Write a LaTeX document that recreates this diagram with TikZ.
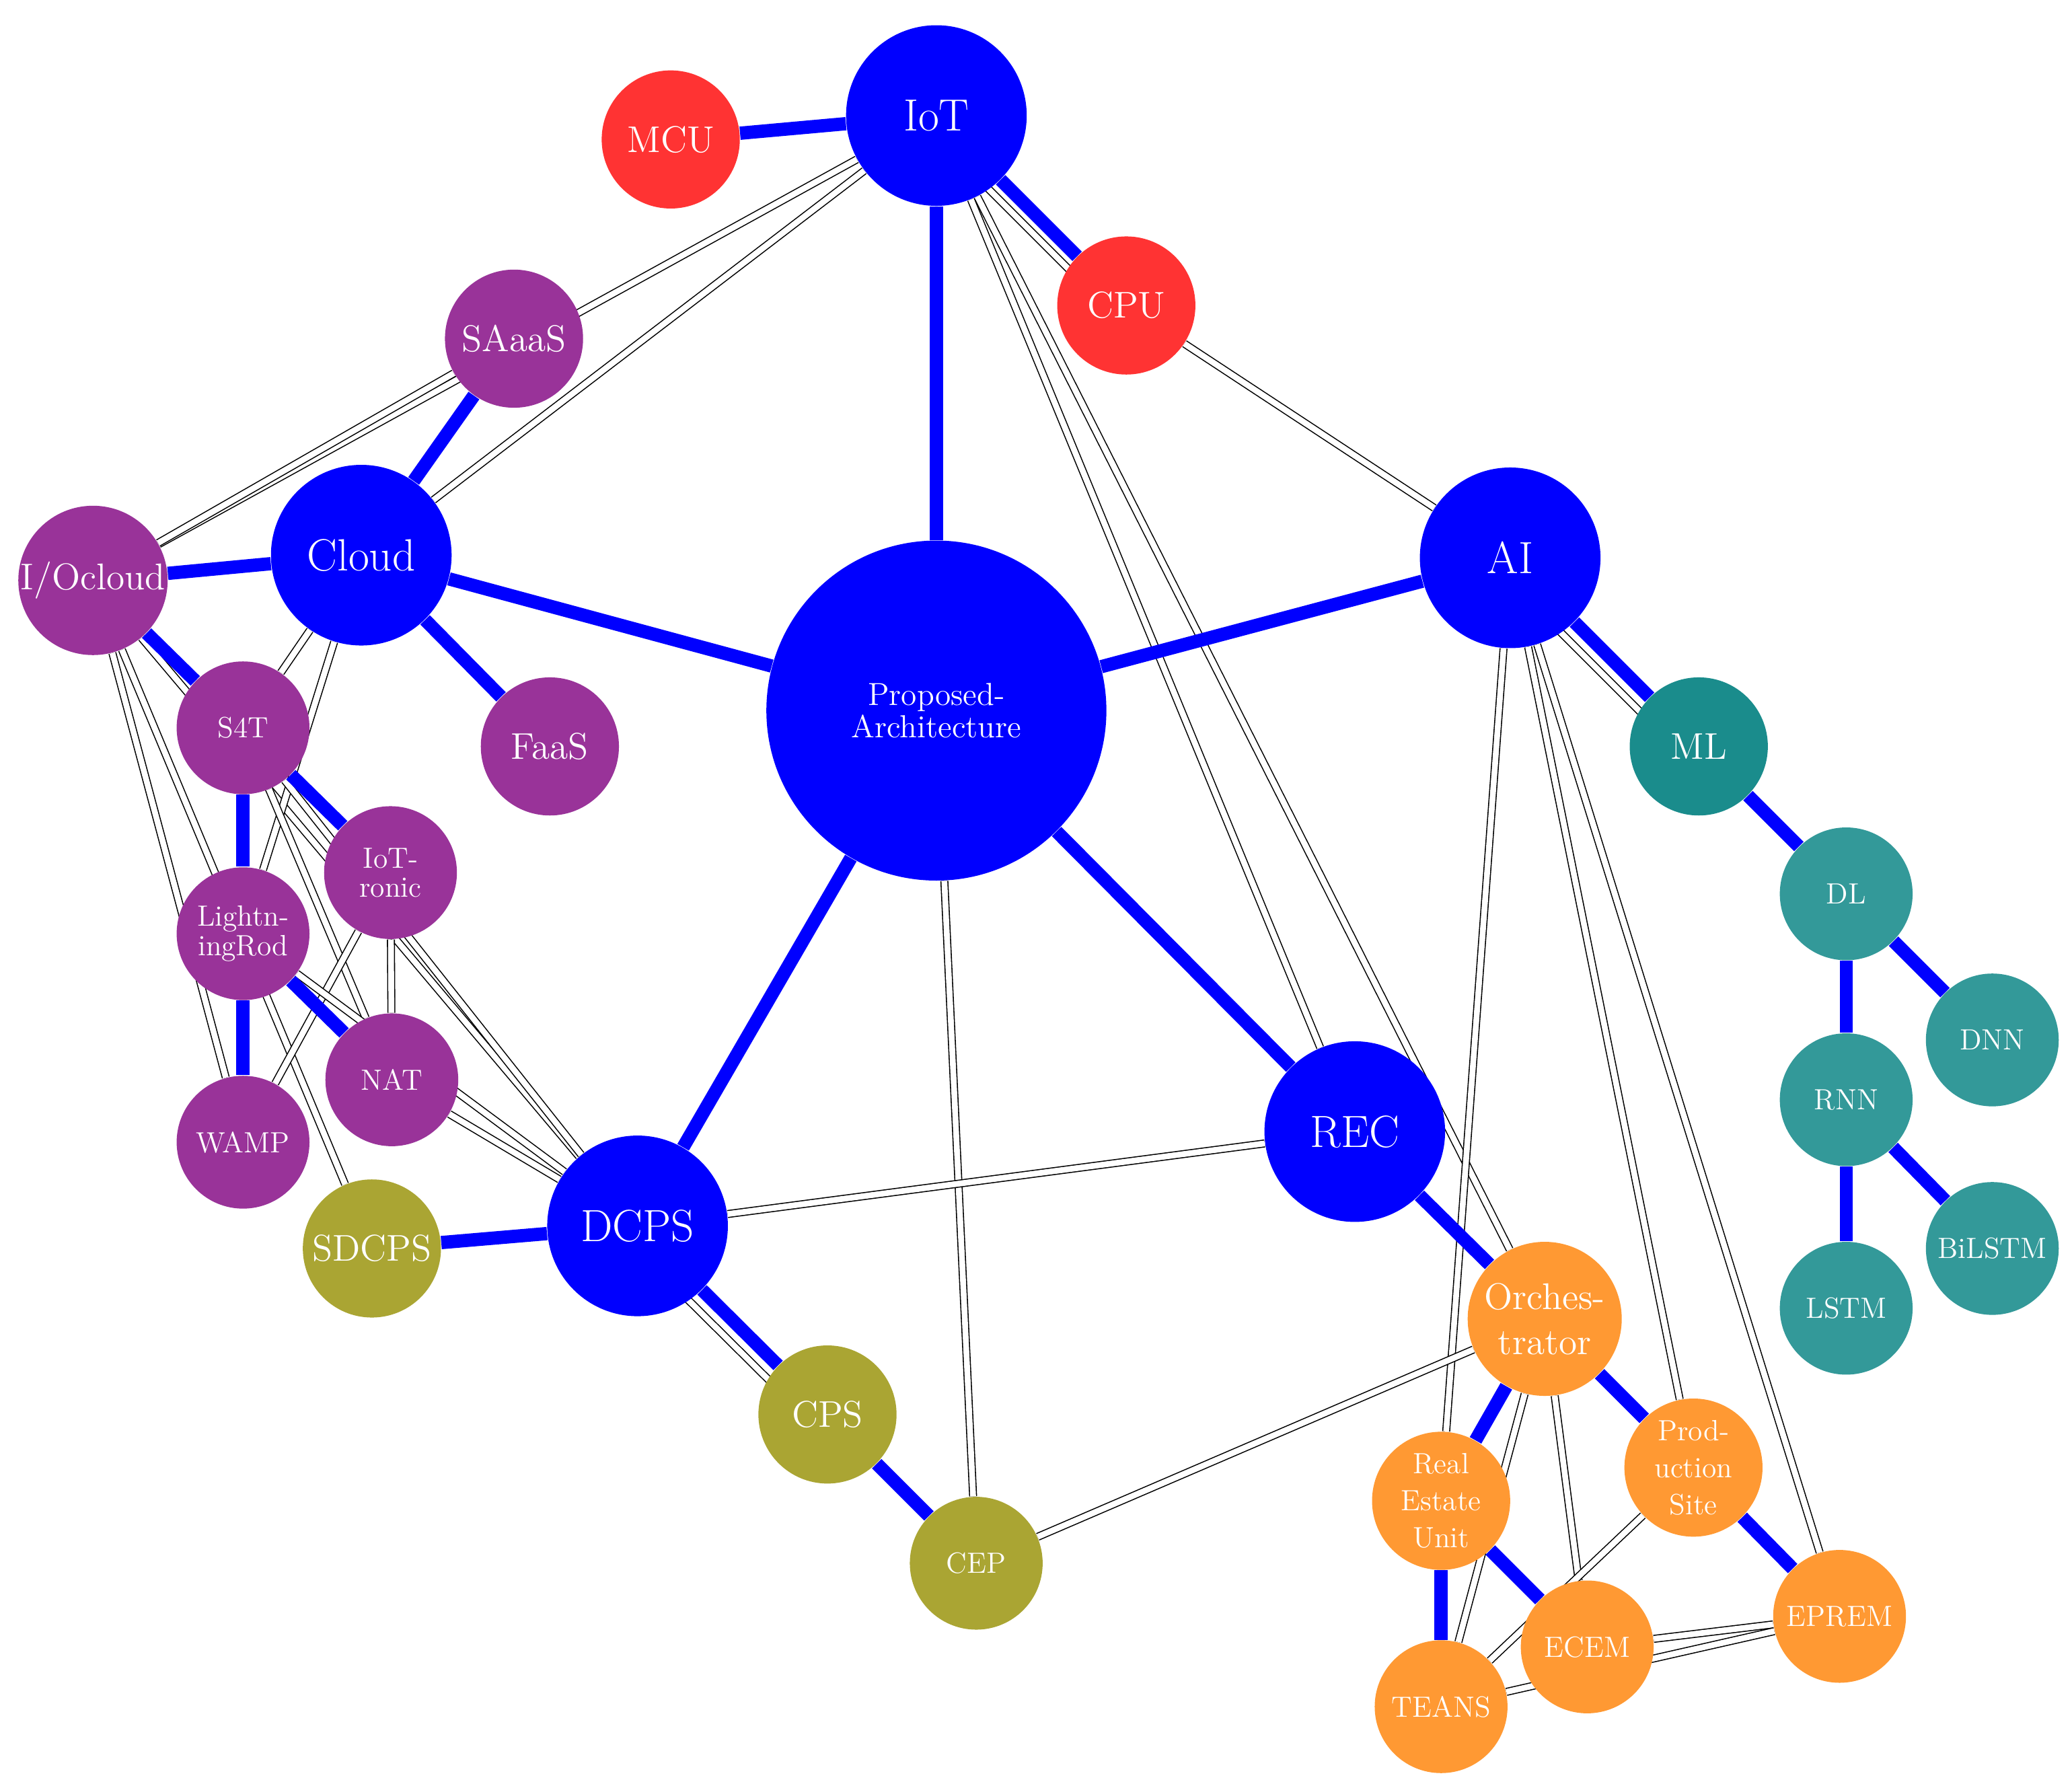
\documentclass[tikz,border=0pt]{standalone}
\usetikzlibrary{backgrounds}
\definecolor{cblue}{RGB}{0,0,255}
\definecolor{cred}{RGB}{255,51,51}
\definecolor{cpur}{RGB}{153,51,153}
\definecolor{cteal}{RGB}{26,140,140}
\definecolor{cteal2}{RGB}{51,153,153}
\definecolor{colive}{RGB}{170,165,51}
\definecolor{corange}{RGB}{255,153,51}
\begin{document}
\begin{tikzpicture}[x=0.5pt,y=-0.5pt,
  c/.style={circle,inner sep=0pt,text=white,align=center,font=\fontsize{#1}{#1}\selectfont},
  big/.style={c=17,minimum size=68pt},
  mid/.style={c=14,minimum size=52pt},
  sm/.style={c=11,minimum size=50pt},
  blue/.style={draw=cblue,line width=5pt},
  dbl/.style={draw=black,line width=0.4pt,double=white,double distance=2.2pt}]
\useasboundingbox (0,0) rectangle (1560,1343);
\node[c=12,minimum size=128pt,fill=cblue] (pa) at (705,535) {Proposed-\\Architecture};
\node[big,fill=cblue] (iot) at (705,87) {IoT};
\node[mid,fill=cred] (mcu) at (505,105) {MCU};
\node[mid,fill=cred] (cpu) at (848,230) {CPU};
\node[big,fill=cblue] (cloud) at (272,418) {Cloud};
\node[mid,fill=cpur] (saas) at (387,255) {SAaaS};
\node[mid,fill=cpur] (io) at (70,437) {I/Ocloud};
\node[mid,fill=cpur] (faas) at (414,562) {FaaS};
\node[sm,fill=cpur] (s4t) at (183,548) {S4T};
\node[sm,fill=cpur] (ronic) at (294,657) {IoT-\\ronic};
\node[sm,fill=cpur] (lr) at (183,703) {Lightn-\\ingRod};
\node[sm,fill=cpur] (nat) at (295,813) {NAT};
\node[sm,fill=cpur] (wamp) at (183,860) {WAMP};
\node[big,fill=cblue] (ai) at (1137,420) {AI};
\node[mid,fill=cteal] (ml) at (1279,562) {ML};
\node[sm,fill=cteal2] (dl) at (1390,673) {DL};
\node[sm,fill=cteal2] (dnn) at (1500,783) {DNN};
\node[sm,fill=cteal2] (rnn) at (1390,828) {RNN};
\node[sm,fill=cteal2] (bil) at (1500,940) {BiLSTM};
\node[sm,fill=cteal2] (lstm) at (1390,985) {LSTM};
\node[big,fill=cblue] (rec) at (1020,852) {REC};
\node[c=14,minimum size=58pt,fill=corange] (orc) at (1163,993) {Orches-\\[3pt]trator};
\node[c=11,minimum size=52pt,fill=corange] (reu) at (1085,1130) {Real\\[3pt]Estate\\[3pt]Unit};
\node[c=11,minimum size=52pt,fill=corange] (ps) at (1275,1105) {Prod-\\[3pt]uction\\[3pt]Site};
\node[sm,fill=corange] (ecem) at (1195,1240) {ECEM};
\node[sm,fill=corange] (teans) at (1085,1285) {TEANS};
\node[sm,fill=corange] (eprem) at (1385,1217) {EPREM};
\node[big,fill=cblue] (dcps) at (480,923) {DCPS};
\node[mid,fill=colive] (sdcps) at (280,940) {SDCPS};
\node[mid,fill=colive] (cps) at (623,1065) {CPS};
\node[sm,fill=colive] (cep) at (735,1177) {CEP};
\begin{scope}[on background layer]
\foreach \a/\b in {iot/io,saas/io,iot/cloud,iot/orc,iot/rec,cpu/ai,ai/ps,ai/eprem,ai/reu,pa/cep,dcps/rec,cep/orc,
  io/sdcps,io/dcps,cloud/s4t,cloud/lr,s4t/dcps,s4t/nat,ronic/wamp,ronic/nat,nat/dcps,lr/dcps,io/wamp,
  orc/teans,orc/ecem,ecem/eprem,teans/eprem,reu/ecem,teans/ps}
  \draw[dbl] (\a) -- (\b);
\draw[dbl] ([xshift=-9pt]dcps.center) -- ([xshift=-9pt]cps.center);
\draw[dbl] ([xshift=-9pt]ai.center) -- ([xshift=-9pt]ml.center);
\draw[dbl] ([yshift=-8pt]iot.center) -- ([yshift=-8pt]cpu.center);
\foreach \a/\b in {pa/iot,pa/cloud,pa/ai,pa/rec,pa/dcps,iot/mcu,iot/cpu,cloud/saas,cloud/io,cloud/faas,io/s4t,
  s4t/lr,s4t/ronic,lr/wamp,lr/nat,ai/ml,ml/dl,dl/dnn,dl/rnn,rnn/bil,rnn/lstm,rec/orc,orc/reu,orc/ps,
  reu/teans,reu/ecem,ps/eprem,dcps/sdcps,dcps/cps,cps/cep}
  \draw[blue] (\a) -- (\b);
\end{scope}
\end{tikzpicture}
\end{document}
